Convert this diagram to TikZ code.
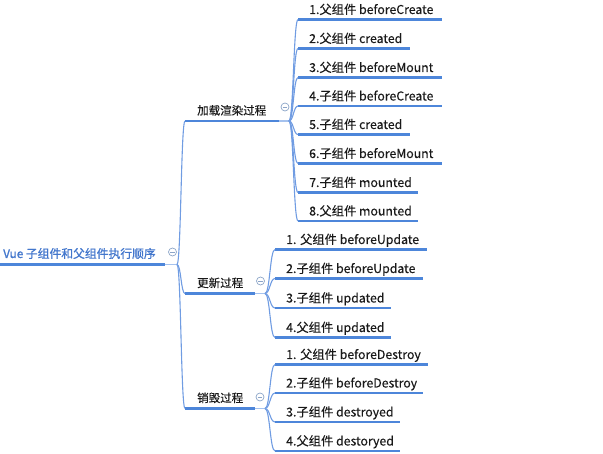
\documentclass[tikz,border=0pt]{standalone}
\usepackage{fontspec}
\setmainfont[FakeBold=0.3]{Noto Sans CJK SC}
\newfontfamily\rootfont[FakeBold=1.0]{Noto Sans CJK SC}
\usetikzlibrary{calc}
\definecolor{uline}{RGB}{77,134,218}
\definecolor{conncol}{RGB}{112,156,226}
\definecolor{stubcol}{RGB}{165,194,238}
\definecolor{roottext}{RGB}{66,118,204}
\definecolor{circcol}{RGB}{140,165,200}
\definecolor{txt}{RGB}{25,25,25}
\tikzset{
  x=1pt, y=-1pt,
  ul/.style={draw=uline, line width=2.8pt},
  stub/.style={draw=stubcol, line width=1.2pt},
  conn/.style={draw=conncol, line width=1.1pt},
  leaftext/.style={anchor=base west, inner sep=0pt, text=txt, font=\fontsize{12.3}{14}\selectfont},
  midtext/.style={anchor=base west, inner sep=0pt, text=txt, font=\fontsize{11.5}{14}\selectfont},
  roottext/.style={anchor=base west, inner sep=0pt, text=roottext, font=\rootfont\fontsize{11.8}{14}\selectfont},
  fold/.style={circle, draw=circcol, fill=white, line width=0.7pt, minimum size=8pt, inner sep=0pt,
    path picture={\draw[circcol, line width=0.7pt] ([xshift=-2.2pt]path picture bounding box.center) -- ([xshift=2.2pt]path picture bounding box.center);}},
}
\newcommand{\leafnode}[6]{% name, x0, x1, y, text, parent junction
  \coordinate (#1s) at (#2,#4);
  \coordinate (#1e) at (#3,#4);
  \draw[ul] (#1s) -- (#1e);
  \node[leaftext] (#1) at (#2+11,#4-5.5) {#5};
  \draw[conn] let \p1=(#6), \p2=(#1s) in (\p1) .. controls ({(\x1+\x2)/2},\y1) and ({(\x1+\x2)/2},\y2) .. (\p2);
}
\newcommand{\midnode}[8]{% name, x0, x1, y, text, circle x, circle y, parent junction
  \coordinate (#1s) at (#2,#4);
  \coordinate (#1e) at (#3,#4);
  \coordinate (#1j) at (#3+10,#4);
  \draw[conn] let \p1=(#8), \p2=(#1s) in (\p1) .. controls ({(\x1+\x2)/2},\y1) and ({(\x1+\x2)/2},\y2) .. (\p2);
  \draw[stub] (#1e) -- (#1j);
  \draw[ul] (#1s) -- (#1e);
  \node[midtext] (#1) at (#2+12,#4-6.3) {#5};
  \node[fold] (#1f) at (#6,#7) {};
}
\begin{document}
\begin{tikzpicture}
\useasboundingbox (0,0) rectangle (603,454);
% root
\coordinate (rs) at (0,264.5);
\coordinate (re) at (165,264.5);
\coordinate (rj) at (177,264.5);
\draw[stub] (re) -- (rj);
\draw[ul] (rs) -- (re);
\node[roottext] (root) at (3,258) {Vue 子组件和父组件执行顺序};
\node[fold] (rootf) at (172.5,252) {};
% level 1
\midnode{ga}{185}{279}{121}{加载渲染过程}{285}{107}{rj}
\midnode{gb}{185}{255}{293.5}{更新过程}{260.5}{281}{rj}
\midnode{gc}{185}{255}{408.5}{销毁过程}{260}{397}{rj}
% group a leaves
\leafnode{a1}{298}{442}{19.5}{1.父组件 beforeCreate}{gaj}
\leafnode{a2}{298}{410}{48.5}{2.父组件 created}{gaj}
\leafnode{a3}{298}{442}{77.5}{3.父组件 beforeMount}{gaj}
\leafnode{a4}{298}{442}{106}{4.子组件 beforeCreate}{gaj}
\leafnode{a5}{298}{410}{134.5}{5.子组件 created}{gaj}
\leafnode{a6}{298}{442}{163.5}{6.子组件 beforeMount}{gaj}
\leafnode{a7}{298}{418}{192.5}{7.子组件 mounted}{gaj}
\leafnode{a8}{298}{418}{221}{8.父组件 mounted}{gaj}
% group b leaves
\leafnode{b1}{275}{427}{249.5}{1. 父组件 beforeUpdate}{gbj}
\leafnode{b2}{275}{423}{278.5}{2.子组件 beforeUpdate}{gbj}
\leafnode{b3}{275}{391}{308}{3.子组件 updated}{gbj}
\leafnode{b4}{275}{391}{337.5}{4.父组件 updated}{gbj}
% group c leaves
\leafnode{c1}{275}{428}{364.5}{1. 父组件 beforeDestroy}{gcj}
\leafnode{c2}{275}{423}{393}{2.子组件 beforeDestroy}{gcj}
\leafnode{c3}{275}{400}{422}{3.子组件 destroyed}{gcj}
\leafnode{c4}{275}{400}{451}{4.父组件 destoryed}{gcj}
\end{tikzpicture}
\end{document}
